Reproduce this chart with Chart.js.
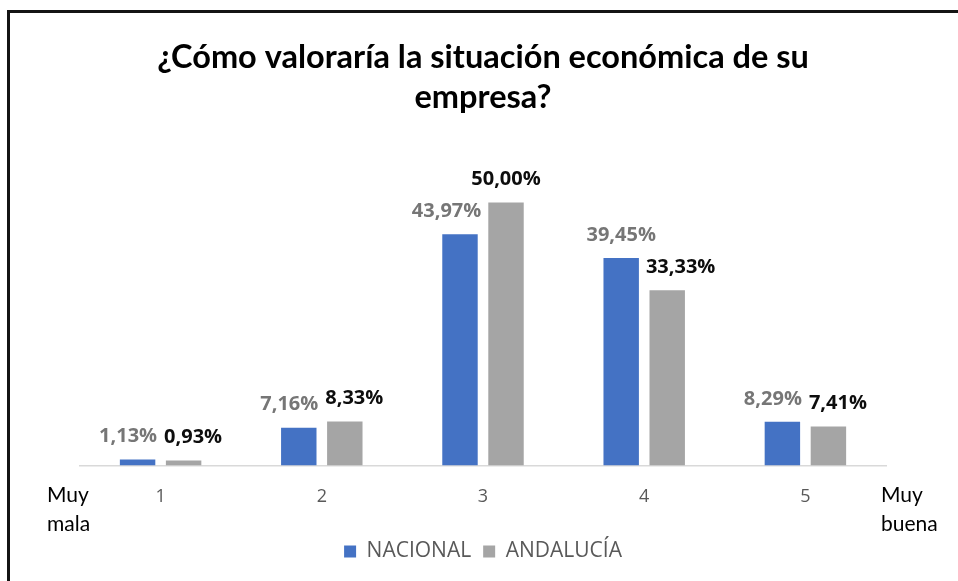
<!DOCTYPE html>
<html>
<head>
<meta charset="utf-8">
<script src="https://cdn.jsdelivr.net/npm/chart.js@4.4.1/dist/chart.umd.min.js"></script>
<style>
  html, body { margin: 0; padding: 0; background: #fff; }
  #wrap { position: relative; width: 958px; height: 581px; overflow: hidden; }
  #frame { position: absolute; left: 7px; top: 10px; right: -20px; bottom: -20px;
           border-left: 3px solid #141414; border-top: 3px solid #141414; }
  canvas { position: absolute; left: 0; top: 0; }
</style>
</head>
<body>
<div id="wrap">
  <div id="frame"></div>
  <canvas id="chart" width="958" height="581"></canvas>
</div>
<script>
// Survey answers, share of companies per rating (%)
const categories = ['1', '2', '3', '4', '5'];
const nacional = [1.13, 7.16, 43.97, 39.45, 8.29];
const andalucia = [0.93, 8.33, 50.00, 33.33, 7.41];
const seriesNames = ['NACIONAL', 'ANDALUCÍA'];
const titleLines = ['¿Cómo valoraría la situación económica de su', 'empresa?'];
const lowEndLabel = ['Muy', 'mala'];
const highEndLabel = ['Muy', 'buena'];

function fmt(v) {
  return v.toFixed(2).replace('.', ',') + '%';
}

// value labels above bars, pushed sideways when they collide
const barLabels = {
  id: 'barLabels',
  afterDatasetsDraw(chart) {
    const ctx = chart.ctx;
    const m0 = chart.getDatasetMeta(0).data;
    const m1 = chart.getDatasetMeta(1).data;
    const h = 16, gap = 7, rise = 23;
    ctx.save();
    ctx.font = 'bold 20px "Open Sans"';
    ctx.textAlign = 'center';
    ctx.textBaseline = 'middle';
    categories.forEach((c, i) => {
      const a = m0[i], b = m1[i];
      const ta = fmt(nacional[i]), tb = fmt(andalucia[i]);
      const wa = ctx.measureText(ta).width, wb = ctx.measureText(tb).width;
      let xa = a.x, ya = a.y - rise, xb = b.x, yb = b.y - rise;
      if (Math.abs(ya - yb) < h) {
        const over = (xa + wa / 2 + gap) - (xb - wb / 2);
        if (over > 0) { xa -= over / 2; xb += over / 2; }
      }
      if (ya + h / 2 > b.y && xa + wa / 2 + gap > b.x - b.width / 2) {
        xa = b.x - b.width / 2 - gap - wa / 2;
      }
      if (yb + h / 2 > a.y && xb - wb / 2 - gap < a.x + a.width / 2) {
        xb = a.x + a.width / 2 + gap + wb / 2;
      }
      ctx.fillStyle = '#767676';
      ctx.fillText(ta, xa, ya);
      ctx.fillStyle = '#0d0d0d';
      ctx.fillText(tb, xb, yb);
    });
    ctx.restore();
  }
};

// "Muy mala" / "Muy buena" at both ends of the axis
const endLabels = {
  id: 'endLabels',
  afterDraw(chart) {
    const ctx = chart.ctx;
    const area = chart.chartArea;
    ctx.save();
    ctx.font = '21px Lato';
    ctx.fillStyle = '#000';
    ctx.textAlign = 'left';
    ctx.textBaseline = 'middle';
    lowEndLabel.forEach((t, k) => ctx.fillText(t, area.left - 33, area.bottom + 30 + k * 29));
    highEndLabel.forEach((t, k) => ctx.fillText(t, area.right - 5, area.bottom + 30 + k * 29));
    ctx.restore();
  }
};

new Chart(document.getElementById('chart'), {
  type: 'bar',
  data: {
    labels: categories,
    datasets: [
      { label: seriesNames[0], data: nacional, backgroundColor: '#4472C4' },
      { label: seriesNames[1], data: andalucia, backgroundColor: '#A5A5A5' }
    ]
  },
  options: {
    responsive: false,
    animation: false,
    categoryPercentage: 0.571,
    barPercentage: 0.77,
    layout: { padding: { left: 80, right: 72, top: 0, bottom: 9 } },
    plugins: {
      title: {
        display: true,
        text: titleLines,
        color: '#000',
        font: { family: 'Lato', size: 32.5, weight: 'bold', lineHeight: 1.23 },
        padding: { top: 38, bottom: 32 }
      },
      legend: {
        position: 'bottom',
        labels: {
          boxWidth: 12,
          boxHeight: 12,
          padding: 12,
          color: '#595959',
          font: { family: 'Open Sans', size: 21 }
        }
      },
      tooltip: { enabled: false }
    },
    scales: {
      x: {
        grid: { display: false, drawTicks: false },
        border: { display: true, color: '#d9d9d9', width: 1.5 },
        ticks: { color: '#595959', font: { family: 'Open Sans', size: 18 }, padding: 21 }
      },
      y: {
        display: false,
        min: 0,
        max: 60
      }
    }
  },
  plugins: [barLabels, endLabels]
});
</script>
</body>
</html>
